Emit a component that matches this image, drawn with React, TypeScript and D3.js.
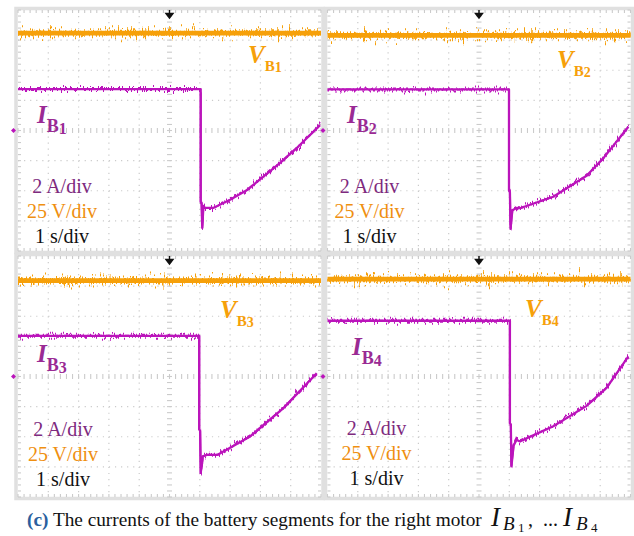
import React from "react";
import * as d3 from "d3";

// scope settings: 1 s/div, 2 A/div, 25 V/div (10 x 8 divisions)
const timeSpan = [0, 10];
const currentSpan = [-8, 8];
const voltSpan = [-100, 100];

const segments = ["1", "2", "3", "4"];
const vbLevel = [80.8, 79.0, 79.6, 80.8]; // V, flat battery voltages

// battery segment currents (s, A)
const ib1Time = [0, 6.03, 6.03, 6.06, 6.08, 6.12, 6.17, 6.44, 7.0, 7.56, 8.09, 8.65, 9.2, 9.97];
const ib1Amp = [2.75, 2.75, -4.72, -4.8, -6.47, -5.0, -5.14, -5.14, -4.6, -3.95, -3.08, -2.15, -1.16, 0.36];

const ib2Time = [0, 5.99, 5.99, 6.02, 6.04, 6.1, 6.24, 6.35, 7.45, 8.55, 9.1, 9.93];
const ib2Amp = [2.73, 2.73, -4.0, -4.1, -6.53, -5.3, -5.14, -5.16, -4.4, -3.0, -1.85, 0.25];

const ib3Time = [0, 5.98, 5.98, 6.01, 6.03, 6.1, 6.23, 6.59, 7.66, 8.76, 9.86];
const ib3Amp = [2.7, 2.7, -3.5, -3.6, -6.4, -5.3, -5.2, -5.2, -3.98, -2.1, 0.22];

const ib4Time = [0, 6.02, 6.02, 6.05, 6.07, 6.14, 6.24, 6.35, 7.45, 8.55, 9.21, 9.93];
const ib4Amp = [3.7, 3.7, -3.1, -3.2, -5.97, -4.6, -4.2, -4.31, -3.3, -1.95, -0.75, 1.33];

const ibTimes = [ib1Time, ib2Time, ib3Time, ib4Time];
const ibAmps = [ib1Amp, ib2Amp, ib3Amp, ib4Amp];

const scaleLabels = ["2 A/div", "25 V/div", "1 s/div"];

const W = 303;
const H = 241;
const layout = [
  { x: 18, y: 10, vLab: [230, 53], iLab: [19, 113], sLab: [44, 183] },
  { x: 327.5, y: 10, vLab: [229.5, 58], iLab: [19.5, 113], sLab: [42, 183] },
  { x: 18, y: 256, vLab: [202, 62], iLab: [19, 106], sLab: [45, 180] },
  { x: 327.5, y: 256, vLab: [197.5, 61], iLab: [24.5, 99], sLab: [49, 179] },
];

const ORANGE = "#f6a00a";
const PURPLE = "#bb14bb";
const serif = "'Liberation Serif', 'Times New Roman', serif";

function NoiseFilter({ id, seed, scale, fx }: { id: string; seed: number; scale: number; fx: string }) {
  return (
    <filter id={id} filterUnits="userSpaceOnUse" x={-10} y={-10} width={W + 20} height={H + 20} colorInterpolationFilters="sRGB">
      <feTurbulence type="fractalNoise" baseFrequency={fx} numOctaves={2} seed={seed} result="t" />
      <feColorMatrix in="t" type="matrix" values="0 0 0 0 0.5  0 1 0 0 0  0 0 0 0 0  0 0 0 0 1" result="m" />
      <feDisplacementMap in="SourceGraphic" in2="m" scale={scale} xChannelSelector="R" yChannelSelector="G" />
    </filter>
  );
}

function Panel({ i }: { i: number }) {
  const L = layout[i];
  const x = d3.scaleLinear().domain(timeSpan).range([0, W]);
  const yI = d3.scaleLinear().domain(currentSpan).range([H, 0]);
  const yV = d3.scaleLinear().domain(voltSpan).range([H, 0]);

  const times = ibTimes[i];
  const lineI = d3.line<number>().x((_, k) => x(times[k])).y((d) => yI(d));
  const lineV = d3.line<number>().x((d) => x(d)).y(() => yV(vbLevel[i]));
  const dV = lineV(timeSpan) ?? "";
  const dI = lineI(ibAmps[i]) ?? "";

  const xMajor = d3.range(1, 10).filter((d) => d !== 5).map((d) => x(d));
  const yMajor = d3.range(-3, 4).filter((d) => d !== 0).map((d) => yI(d * 2));
  const xMinor = d3.range(0, 50.5).map((k) => (k * W) / 50);
  const yMinor = d3.range(0, 40.5).map((k) => (k * H) / 40);
  const cx = x(5);
  const cy = yI(0);
  const grid = "#cbcbcb";
  const dx = W / 50;
  const dy = H / 40;

  return (
    <g transform={`translate(${L.x},${L.y})`}>
      <defs>
        <NoiseFilter id={`nv${i}`} seed={11 + i} scale={26} fx="0.9 0.04" />
        <NoiseFilter id={`nw${i}`} seed={51 + i} scale={12} fx="0.7 0.04" />
        <NoiseFilter id={`ni${i}`} seed={31 + i} scale={12} fx="0.9 0.04" />
      </defs>
      <rect x={-2} y={-1.5} width={W + 4} height={H + 3} fill="#fff" stroke="#e0e0e0" strokeWidth={3.5} />
      {xMajor.map((v, k) => (
        <line key={`gx${k}`} x1={v} x2={v} y1={0} y2={H} stroke={grid} strokeWidth={1.2} strokeDasharray={`1.2 ${dy - 1.2}`} />
      ))}
      {yMajor.map((v, k) => (
        <line key={`gy${k}`} x1={0} x2={W} y1={v} y2={v} stroke={grid} strokeWidth={1.2} strokeDasharray={`1.2 ${dx - 1.2}`} />
      ))}
      {xMinor.map((v, k) => (
        <g key={`mx${k}`} stroke={grid} strokeWidth={1.1}>
          <line x1={v} x2={v} y1={cy - 2.5} y2={cy + 2.5} />
          <line x1={v} x2={v} y1={0} y2={3} />
          <line x1={v} x2={v} y1={H - 3} y2={H} />
        </g>
      ))}
      {yMinor.map((v, k) => (
        <g key={`my${k}`} stroke={grid} strokeWidth={1.1}>
          <line x1={cx - 2.5} x2={cx + 2.5} y1={v} y2={v} />
          <line x1={0} x2={3} y1={v} y2={v} />
          <line x1={W - 3} x2={W} y1={v} y2={v} />
        </g>
      ))}
      {/* trigger marker and channel ground marker */}
      <path d={`M${cx},0 V5 M${cx - 3.5},3.5 L${cx},8 L${cx + 3.5},3.5 Z`} stroke="#111" strokeWidth={1.4} fill="#111" />
      <path d={`M-7,${cy} l2.5,-2.5 l2.5,2.5 l-2.5,2.5 Z`} fill={PURPLE} />

      {/* solid core of each trace plus a noisy fringe */}
      <path d={dV} fill="none" stroke={ORANGE} strokeWidth={4.8} />
      <path d={dV} fill="none" stroke={ORANGE} strokeWidth={3} filter={`url(#nw${i})`} />
      <path d={dV} fill="none" stroke={ORANGE} strokeWidth={2} filter={`url(#nv${i})`} />
      <path d={dI} fill="none" stroke={PURPLE} strokeWidth={2.3} strokeLinejoin="round" />
      <path d={dI} fill="none" stroke={PURPLE} strokeWidth={2} strokeLinejoin="round" filter={`url(#ni${i})`} />

      <text x={L.vLab[0]} y={L.vLab[1]} fontFamily={serif} fill={ORANGE} fontWeight="bold">
        <tspan fontStyle="italic" fontSize={25}>V</tspan>
        <tspan fontSize={15} dy={8}>B</tspan>
        <tspan fontSize={14} dy={1}>{segments[i]}</tspan>
      </text>
      <text x={L.iLab[0]} y={L.iLab[1]} fontFamily={serif} fill="#9a2a94" fontWeight="bold">
        <tspan fontStyle="italic" fontSize={25}>I</tspan>
        <tspan fontSize={18} dy={9}>B</tspan>
        <tspan fontSize={16} dy={2}>{segments[i]}</tspan>
      </text>
      {scaleLabels.map((s, k) => (
        <text
          key={s}
          x={L.sLab[0]}
          y={L.sLab[1] + k * 25}
          textAnchor="middle"
          fontFamily={serif}
          fontSize={20}
          fill={["#7e2a7e", "#ef8f10", "#111"][k]}
        >
          {s}
        </text>
      ))}
    </g>
  );
}

export default function App() {
  return (
    <svg width={634} height={536} style={{ position: "absolute", left: 0, top: 0, background: "#fff" }}>
      {segments.map((_, i) => (
        <Panel key={i} i={i} />
      ))}
      <text x={27} y={526} fontFamily={serif} fontSize={19.3} fill="#111">
        <tspan fill="#2a5f9e" fontWeight="bold">(c)</tspan>
        <tspan> The currents of the battery segments for the right motor</tspan>
      </text>
      <text y={526} fontFamily={serif} fill="#111">
        <tspan x={491} fontStyle="italic" fontSize={27}>I</tspan>
        <tspan x={503} dy={4} fontStyle="italic" fontSize={19}>B</tspan>
        <tspan x={518} dy={2} fontSize={13}>1</tspan>
        <tspan x={528} dy={-6} fontSize={20}>,</tspan>
        <tspan x={543} fontSize={20}>...</tspan>
        <tspan x={563} fontStyle="italic" fontSize={27}>I</tspan>
        <tspan x={576} dy={4} fontStyle="italic" fontSize={19}>B</tspan>
        <tspan x={591} dy={2} fontSize={13}>4</tspan>
      </text>
    </svg>
  );
}
